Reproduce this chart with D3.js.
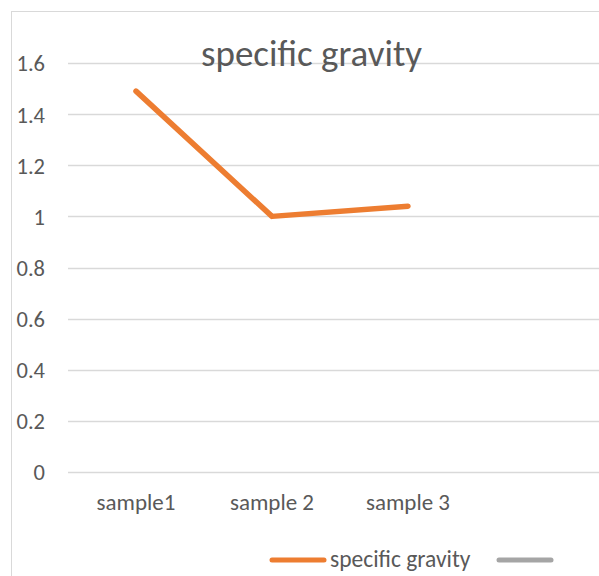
<!DOCTYPE html>
<html><head><meta charset="utf-8">
<script src="https://cdn.jsdelivr.net/npm/d3@7"></script>
<style>
html,body{margin:0;padding:0;background:#fff;}
svg{display:block;font-family:Carlito, Lato, "Open Sans", sans-serif;}
</style></head>
<body><svg id="c" width="599" height="576"></svg>
<script>
const categories = ["sample1", "sample 2", "sample 3", ""];
const seriesNames = ["specific gravity", ""];
const specificGravity = [1.49, 1.0, 1.04, null];
const series2 = [null, null, null, null];
const yTicks = [0, 0.2, 0.4, 0.6, 0.8, 1, 1.2, 1.4, 1.6];
const titleText = "specific gravity";
const colors = ["#ED7D31", "#A5A5A5"];
const FONT = "Carlito, Lato, sans-serif";

const svg = d3.select("#c");
svg.append("rect").attr("x", 11.5).attr("y", 11.5).attr("width", 620).attr("height", 620)
  .attr("fill", "#fff").attr("stroke", "#D9D9D9").attr("stroke-width", 1);

const x = d3.scaleBand().domain(categories).range([68, 612]);
const y = d3.scaleLinear().domain([0, 1.6]).range([472, 63]);

svg.append("g").selectAll("line").data(yTicks).join("line")
  .attr("x1", 68).attr("x2", 612)
  .attr("y1", d => Math.round(y(d)) + 0.5).attr("y2", d => Math.round(y(d)) + 0.5)
  .attr("stroke", "#D9D9D9").attr("stroke-width", 1.5);

const yAxis = d3.axisLeft(y).tickValues(yTicks).tickSize(0).tickPadding(0)
  .tickFormat(d => d3.format("~g")(d));
const gy = svg.append("g").attr("transform", "translate(45,0)").call(yAxis);
gy.attr("font-family", FONT).attr("font-size", 22.5);
gy.select(".domain").remove();
gy.selectAll("text").attr("fill", "#595959").attr("dy", "0.35em");

const xAxis = d3.axisBottom(x).tickSize(0).tickPadding(0);
const gx = svg.append("g").attr("transform", "translate(0,510)").call(xAxis);
gx.attr("font-family", FONT).attr("font-size", 23);
gx.select(".domain").remove();
gx.selectAll("text").attr("fill", "#595959").attr("dy", "0");

svg.append("text").attr("x", 311.5).attr("y", 66).attr("text-anchor", "middle")
  .attr("fill", "#595959").style("font-size", "37px").text(titleText);

const line = d3.line().defined(d => d.v != null)
  .x(d => x(d.c) + x.bandwidth() / 2).y(d => y(d.v));
[specificGravity, series2].forEach((vals, i) => {
  svg.append("path").datum(categories.map((c, j) => ({c, v: vals[j]})))
    .attr("d", line).attr("fill", "none").attr("stroke", colors[i])
    .attr("stroke-width", 5.5).attr("stroke-linecap", "round").attr("stroke-linejoin", "round");
});

const leg = svg.append("g");
leg.append("line").attr("x1", 272).attr("x2", 324).attr("y1", 560).attr("y2", 560)
  .attr("stroke", colors[0]).attr("stroke-width", 5).attr("stroke-linecap", "round");
leg.append("text").attr("x", 330).attr("y", 567).attr("fill", "#595959")
  .style("font-size", "23.5px").text(seriesNames[0]);
leg.append("line").attr("x1", 499).attr("x2", 551).attr("y1", 560).attr("y2", 560)
  .attr("stroke", colors[1]).attr("stroke-width", 5).attr("stroke-linecap", "round");
leg.append("text").attr("x", 557).attr("y", 567).attr("fill", "#595959")
  .style("font-size", "23.5px").text(seriesNames[1]);
</script></body></html>
